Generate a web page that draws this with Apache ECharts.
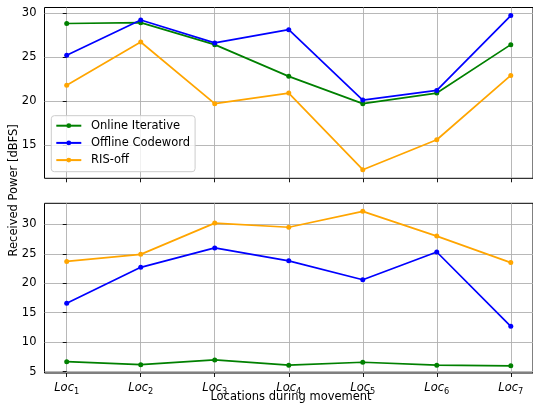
<!DOCTYPE html>
<html>
<head>
<meta charset="utf-8">
<script src="https://cdn.jsdelivr.net/npm/echarts@6/dist/echarts.min.js"></script>
<style>
  html, body { margin: 0; padding: 0; background: #fff; }
  #chart { width: 533px; height: 407px; }
</style>
</head>
<body>
<div id="chart"></div>
<script>
// Measurement locations along the route
const locations = [1, 2, 3, 4, 5, 6, 7];
const seriesNames = ['Online Iterative', 'Offline Codeword', 'RIS-off'];
const seriesColors = ['#008000', '#0000ff', '#ffa500'];

// Upper panel: received power [dBFS]
const upperOnline  = [28.8, 28.9, 26.4, 22.8, 19.7, 20.9, 26.4];
const upperOffline = [25.2, 29.2, 26.6, 28.1, 20.1, 21.2, 29.7];
const upperRisOff  = [21.8, 26.7, 19.7, 20.9, 12.2, 15.6, 22.9];

// Lower panel: received power [dBFS]
const lowerOnline  = [6.7, 6.2, 7.0, 6.1, 6.6, 6.1, 6.0];
const lowerOffline = [16.6, 22.7, 26.0, 23.8, 20.6, 25.3, 12.7];
const lowerRisOff  = [23.7, 24.9, 30.2, 29.5, 32.2, 28.0, 23.5];

// Tick values
const upperTicks = [15, 20, 25, 30];
const lowerTicks = [5, 10, 15, 20, 25, 30];
const xTicks = locations.map((_, i) => i);

const FONT = 'DejaVu Sans';
const FS = 11.5;
const gridLine = { show: true, lineStyle: { color: '#b0b0b0', width: 0.9 } };
const tickStyle = { show: true, length: 4, lineStyle: { color: '#000', width: 0.9 } };

function xAxisFor(gridIndex, withLabels) {
  return {
    type: 'value', gridIndex,
    min: -0.3, max: 6.3,
    axisLine: { show: false },
    axisTick: Object.assign({ customValues: xTicks }, tickStyle),
    splitLine: gridLine,
    axisLabel: {
      show: withLabels,
      customValues: xTicks,
      margin: 7,
      formatter: v => '{a|Loc}{b|' + locations[Math.round(v)] + '}',
      rich: {
        a: { fontFamily: FONT, fontStyle: 'italic', fontSize: FS, color: '#000', lineHeight: 16, verticalAlign: 'middle' },
        b: { fontFamily: FONT, fontSize: 8.2, color: '#000', lineHeight: 16, verticalAlign: 'bottom' }
      }
    }
  };
}

function yAxisFor(gridIndex, min, max, ticks) {
  return {
    type: 'value', gridIndex, min, max,
    axisLine: { show: false },
    axisTick: Object.assign({ customValues: ticks }, tickStyle),
    splitLine: gridLine,
    axisLabel: { customValues: ticks, fontFamily: FONT, fontSize: FS, color: '#000', margin: 8 }
  };
}

function lineSeries(name, color, values, axisIndex) {
  return {
    name, type: 'line',
    xAxisIndex: axisIndex, yAxisIndex: axisIndex,
    data: values.map((v, i) => [i, v]),
    symbol: 'circle', symbolSize: 5, showSymbol: true,
    lineStyle: { color, width: 1.7 },
    itemStyle: { color },
    emphasis: { disabled: true },
    animation: false
  };
}

const chart = echarts.init(document.getElementById('chart'), null, { renderer: 'canvas' });
chart.setOption({
  animation: false,
  textStyle: { fontFamily: FONT },
  grid: [
    { left: 44.5, top: 7.5, width: 493, height: 170.8, show: true, borderColor: '#000', borderWidth: 1, backgroundColor: 'transparent' },
    { left: 44.5, top: 203.3, width: 493, height: 169.7, show: true, borderColor: '#000', borderWidth: 1, backgroundColor: 'transparent' }
  ],
  xAxis: [xAxisFor(0, false), xAxisFor(1, true)],
  yAxis: [yAxisFor(0, 11.22, 30.62, upperTicks), yAxisFor(1, 4.78, 33.56, lowerTicks)],
  legend: {
    data: seriesNames,
    orient: 'vertical',
    left: 51.3, top: 115.7,
    itemWidth: 25, itemHeight: 6, itemGap: 5.2,
    padding: [4, 5, 5.6, 4],
    backgroundColor: 'rgba(255,255,255,0.8)',
    borderColor: '#cccccc', borderWidth: 1, borderRadius: 3,
    textStyle: { fontFamily: FONT, fontSize: FS, lineHeight: 12, color: '#000', padding: [0, 0, 0, 4.7] },
    selectedMode: false
  },
  series: [
    lineSeries(seriesNames[0], seriesColors[0], upperOnline, 0),
    lineSeries(seriesNames[1], seriesColors[1], upperOffline, 0),
    lineSeries(seriesNames[2], seriesColors[2], upperRisOff, 0),
    lineSeries(seriesNames[0], seriesColors[0], lowerOnline, 1),
    lineSeries(seriesNames[1], seriesColors[1], lowerOffline, 1),
    lineSeries(seriesNames[2], seriesColors[2], lowerRisOff, 1)
  ],
  graphic: [
    {
      type: 'text',
      x: 14, y: 190.3, rotation: Math.PI / 2,
      style: { text: 'Received Power [dBFS]', fontFamily: FONT, fontSize: FS, fill: '#000', align: 'center', verticalAlign: 'middle' }
    },
    {
      type: 'text',
      x: 291, y: 397.5,
      style: { text: 'Locations during movement', fontFamily: FONT, fontSize: FS, fill: '#000', align: 'center', verticalAlign: 'middle' }
    }
  ]
});
</script>
</body>
</html>
